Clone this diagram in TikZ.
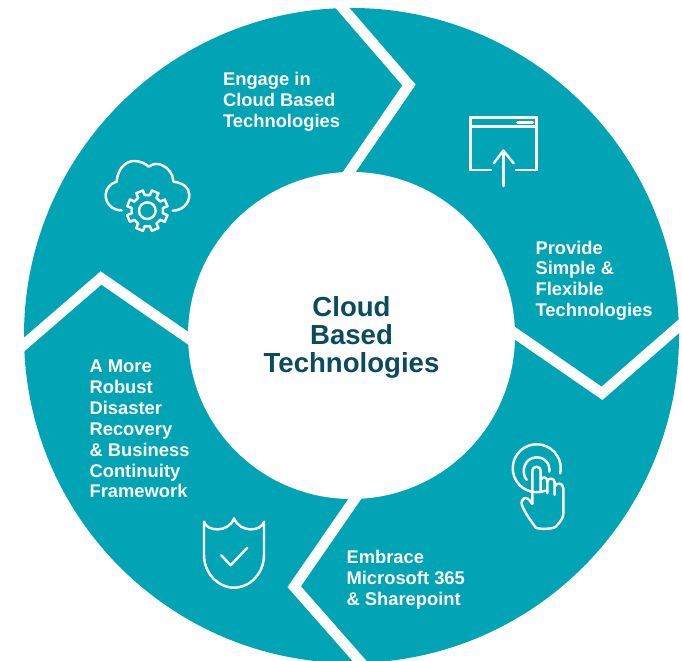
\documentclass[tikz,border=0pt]{standalone}
\usepackage{fontspec}
\setmainfont{Liberation Sans}
\definecolor{ringteal}{HTML}{00A4B5}
\definecolor{titleteal}{HTML}{0B4B5E}
\tikzset{
    gap/.style={draw=white, line width=6pt, line join=miter},
    icon/.style={draw=white, line width=1.4pt, line cap=round, line join=round},
    step label/.style={anchor=north west, align=left, inner sep=0pt, text=white, font=\fontsize{10.45}{11.85}\selectfont\bfseries},
    title label/.style={align=center, inner sep=0pt, text=titleteal, font=\fontsize{15.7}{15.8}\selectfont\bfseries}
}

\begin{document}
\begin{tikzpicture}[x=0.02cm,y=-0.02cm]
            \useasboundingbox (0,0) rectangle (682,661);
            \coordinate (c) at (351.5,335.5);
            % ring and its four notches
            \fill[ringteal] (c) circle (327.5);
            \draw[gap] (333,-3) -- (409,85) -- (342,182.5);
            \draw[gap] (505,326.4) -- (602,393.3) -- (690,316.6);
            \draw[gap] (361,490) -- (294.2,586.7) -- (367.5,670);
            \draw[gap] (12,355) -- (101,278) -- (198,345);
            \fill[white] (c) circle (163.5);
            % texts
            \node[title label] (title) at (351.5,337.5) {Cloud\\Based\\Technologies};
            \node[step label] (engage) at (222.7,72) {Engage in\\Cloud Based\\Technologies};
            \node[step label] (provide) at (535.2,240.5) {Provide\\Simple \&\\Flexible\\Technologies};
            \node[step label] (embrace) at (346.2,550) {Embrace\\Microsoft 365\\\& Sharepoint};
            \node[step label] (robust) at (89.2,360) {A More\\Robust\\Disaster\\Recovery\\\& Business\\Continuity\\Framework};
            % cloud with gear
            \begin{scope}[shift={(90,140)},x=0.00667cm,y=-0.00667cm]
                \draw[icon] (95,211) .. controls (65,211) and (47,190) .. (47,165)
                    .. controls (47,148) and (60,130) .. (80,125)
                    .. controls (82,90) and (105,63) .. (132,63)
                    .. controls (150,63) and (165,70) .. (176,80)
                    .. controls (190,70) and (205,70) .. (215,75)
                    .. controls (235,83) and (250,103) .. (250,125)
                    .. controls (280,128) and (298,145) .. (298,165)
                    .. controls (298,192) and (275,212) .. (248,212);
                \draw[icon] (172,212) circle (25);
                \foreach \a in {22.5,67.5,...,337.5}
                    \draw[icon, shift={(172,212)}] (\a-22.5:47) -- (\a-13:47) -- (\a-10:62) -- (\a+10:62) -- (\a+13:47) -- (\a+22.5:47);
            \end{scope}
            % window with arrow
            \begin{scope}[shift={(450,100)},x=0.00667cm,y=-0.00667cm]
                \draw[icon, line cap=butt, line join=miter] (127,210) -- (62,210) -- (62,52) -- (260,52) -- (260,210) -- (195,210);
                \draw[icon, line cap=butt] (62,80) -- (260,80);
                \draw[icon] (202,68) -- (248,68);
                \draw[icon] (160,258) -- (160,152);
                \draw[icon] (131,190) -- (160,152) -- (191,190);
            \end{scope}
            % hand with touch rings
            \begin{scope}[shift={(490,430)},x=0.00667cm,y=-0.00667cm]
                \draw[icon] (166,182) arc[start angle=69, end angle=372, radius=72];
                \draw[icon] (110,150) .. controls (90,125) and (105,82) .. (140,82) .. controls (165,82) and (180,100) .. (178,125);
                \draw[icon] (127,222) -- (127,125) .. controls (127,105) and (152,105) .. (152,125) -- (152,185);
                \draw[icon] (152,150) .. controls (156,138) and (172,140) .. (172,153) -- (172,190);
                \draw[icon] (172,153) .. controls (176,142) and (194,144) .. (194,157) -- (194,195);
                \draw[icon] (194,170) .. controls (198,156) and (220,158) .. (220,175) -- (220,248)
                    .. controls (220,270) and (205,280) .. (197,290) .. controls (190,297) and (150,299) .. (137,293)
                    .. controls (125,275) and (105,250) .. (96,225)
                    .. controls (90,205) and (110,192) .. (127,222);
            \end{scope}
            % shield with check
            \begin{scope}[shift={(190,505)},x=0.00667cm,y=-0.00667cm]
                \draw[icon] (42,50) .. controls (50,80) and (115,85) .. (132,40)
                    .. controls (150,85) and (215,80) .. (222,50) -- (222,150)
                    .. controls (222,205) and (180,248) .. (132,248)
                    .. controls (85,248) and (42,205) .. (42,150) -- cycle;
                \draw[icon] (94,151) -- (122,181) -- (172,128);
            \end{scope}
        \end{tikzpicture}
\end{document}
